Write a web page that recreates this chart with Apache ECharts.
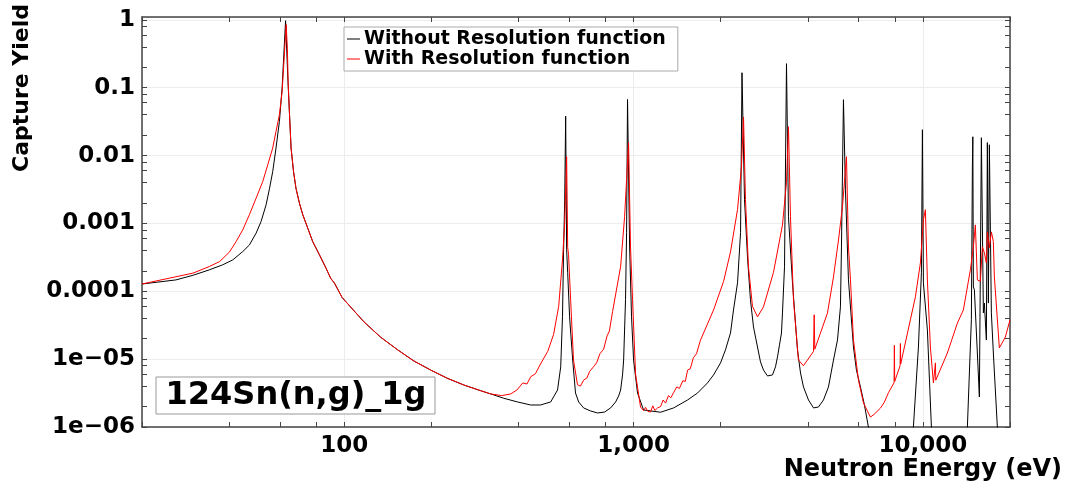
<!DOCTYPE html>
<html><head><meta charset="utf-8">
<script src="https://cdn.jsdelivr.net/npm/echarts@6/dist/echarts.min.js"></script>
<style>html,body{margin:0;padding:0;background:#fff}#c{width:1068px;height:485px}</style>
</head><body><div id="c"></div>
<script>
const seriesNames = ['Without Resolution function', 'With Resolution function'];
const xLabelValues = [100, 1000, 10000];
const xLabelTexts = ['100', '1,000', '10,000'];
const yLabelValues = [1e-6, 1e-5, 1e-4, 1e-3, 0.01, 0.1, 1];
const yLabelTexts = ['1e\u221206', '1e\u221205', '0.0001', '0.001', '0.01', '0.1', '1'];
const xTickValues = [20, 40, 60, 80, 100, 200, 400, 600, 800, 1000, 2000, 4000, 6000, 8000, 10000, 20000];
const yTickValues = [1e-6, 2e-6, 4e-6, 6e-6, 8e-6, 1e-5, 2e-5, 4e-5, 6e-5, 8e-5, 1e-4, 2e-4, 4e-4, 6e-4, 8e-4,
  1e-3, 2e-3, 4e-3, 6e-3, 8e-3, 0.01, 0.02, 0.04, 0.06, 0.08, 0.1, 0.2, 0.4, 0.6, 0.8, 1];

// Without resolution function (black): [energy eV, capture yield]
const noResPoints = [
  [20, 1.28e-4], [26.2, 1.47e-4], [30, 1.72e-4], [34.2, 2.07e-4], [38, 2.45e-4], [41.2, 2.9e-4], [44.6, 3.85e-4],
  [47.0, 4.8e-4], [49.6, 7.2e-4], [51.6, 1.07e-3], [53.7, 1.88e-3], [55.2, 3.3e-3], [56.6, 5.8e-3], [58.1, 0.0129],
  [59.7, 0.0318], [61.0, 0.099], [62.0, 0.385], [62.7, 0.97], [63.9, 0.124], [64.7, 0.040], [65.5, 0.0129],
  [66.8, 5.8e-3], [68.1, 3.3e-3], [70.0, 1.99e-3], [71.9, 1.34e-3], [74.8, 8.5e-4], [77.8, 5.4e-4], [82.1, 3.44e-4],
  [86.5, 2.19e-4], [89.8, 1.55e-4], [92.5, 1.32e-4], [98.3, 8.1e-5], [117, 3.54e-5], [133.7, 2.1e-5], [153, 1.37e-5],
  [174, 9.4e-6], [199, 6.9e-6], [227, 5.23e-6], [259, 4.16e-6], [296, 3.43e-6], [321, 3.07e-6], [356, 2.65e-6],
  [397, 2.34e-6], [441, 2.11e-6], [477, 2.11e-6], [517, 2.34e-6], [546, 3.5e-6], [560, 7.7e-6],
  [568, 4.2e-5], [573, 4.1e-4], [578, 2.2e-3], [582.5, 0.038], [587, 4.1e-4], [592, 1.87e-4], [601, 4.2e-5],
  [616, 9.7e-6], [630, 3.17e-6], [646, 2.34e-6], [672, 1.91e-6], [711, 1.72e-6], [751, 1.61e-6], [794, 1.66e-6],
  [833, 1.91e-6], [867, 2.34e-6], [888, 2.87e-6], [902, 3.5e-6], [916, 5.85e-6], [924, 9.7e-6], [938, 7.5e-5],
  [946, 7.3e-4], [953, 0.067], [969, 4.5e-4], [984, 4.2e-5], [1000, 9.7e-6], [1032, 3.17e-6], [1083, 1.78e-6],
  [1240, 1.65e-6], [1375, 1.91e-6], [1537, 2.5e-6], [1664, 3.17e-6], [1801, 4.46e-6], [1890, 5.85e-6], [1998, 8.8e-6],
  [2078, 1.37e-5], [2163, 2.43e-5], [2215, 5.3e-5], [2287, 1.33e-4], [2343, 7.3e-4], [2370, 0.166], [2418, 2.23e-3],
  [2476, 3.2e-4], [2535, 7.5e-5], [2597, 2.98e-5], [2681, 1.51e-5], [2746, 9.1e-6], [2812, 6.9e-6], [2904, 5.65e-6],
  [2950, 5.5e-6], [3021, 5.85e-6], [3094, 7.7e-6], [3144, 1.08e-5], [3194, 1.62e-5], [3245, 2.43e-5], [3271, 4.8e-5],
  [3324, 2.29e-4], [3377, 0.226], [3431, 1.25e-3], [3542, 1.33e-4], [3685, 1.37e-5], [3776, 6.25e-6], [3866, 3.89e-6],
  [4023, 2.5e-6], [4187, 1.91e-6], [4355, 1.97e-6], [4533, 2.5e-6], [4716, 3.89e-6], [4909, 9.7e-6], [5068, 1.92e-5],
  [5188, 5.9e-5], [5230, 4.5e-4], [5314, 0.0665], [5399, 3.13e-3], [5530, 1.47e-4], [5754, 1.51e-5], [5892, 6.9e-6],
  [6084, 3.89e-6], [6280, 2.11e-6], [6481, 1.0e-6], [7000, 3e-7], [8600, 3e-7], [9272, 1.0e-6], [9650, 1.51e-5],
  [9881, 1.87e-4], [9961, 0.024], [10040, 1.33e-4], [10363, 2.7e-5], [10700, 1.0e-6], [11500, 3e-7], [13500, 3e-7],
  [14247, 1.0e-6], [14707, 3.8e-5], [14825, 6.8e-3], [14880, 0.0189], [14943, 1.16e-4], [15063, 1.05e-4], [15426, 1.23e-5],
  [15674, 2.77e-6], [15926, 0.0183], [16181, 4.8e-5], [16310, 6.7e-5], [16571, 1.92e-5], [16704, 0.0155], [16838, 6.7e-5],
  [16971, 0.0144], [17243, 4.8e-5], [17519, 1.23e-5], [18084, 1.0e-6], [19000, 3e-7], [20000, 3e-7]
];

// With resolution function (red): [energy eV, capture yield]
const resPoints = [
  [20, 1.28e-4], [30, 1.85e-4], [34.2, 2.32e-4], [37.1, 2.74e-4], [40.1, 3.78e-4], [42.3, 5.4e-4], [44.6, 8.05e-4],
  [47.0, 1.34e-3], [49.6, 2.36e-3], [52.3, 4.15e-3], [54.4, 7.3e-3], [56.6, 0.0129], [58.1, 0.0227], [59.7, 0.040],
  [61.0, 0.088], [61.8, 0.218], [62.7, 0.605], [63.0, 0.85], [63.6, 0.38], [64.0, 0.12], [64.7, 0.040], [65.5, 0.0129],
  [66.8, 5.8e-3], [68.1, 3.3e-3], [70.0, 1.99e-3], [71.9, 1.34e-3], [74.8, 8.5e-4], [77.8, 5.4e-4], [82.1, 3.44e-4],
  [86.5, 2.19e-4], [89.8, 1.55e-4], [92.5, 1.32e-4], [98.3, 8.1e-5], [117, 3.54e-5], [133.7, 2.1e-5], [153, 1.37e-5],
  [174, 9.4e-6], [199, 6.9e-6], [227, 5.23e-6], [259, 4.16e-6], [296, 3.43e-6], [321, 3.07e-6],
  [350, 2.9e-6], [376, 3.07e-6], [395, 3.5e-6], [414, 4.46e-6], [428, 4.3e-6], [441, 5.5e-6], [458, 6.1e-6],
  [477, 8.5e-6], [505, 1.3e-5], [529, 2.3e-5], [551, 6e-5], [568, 2.9e-4], [578, 1.0e-3], [587, 9.6e-3],
  [592, 4.4e-4], [596, 3.5e-4], [606, 7.5e-5], [620, 9.7e-6], [640, 4.2e-6], [655, 4.0e-6], [672, 4.9e-6],
  [690, 5.3e-6], [705, 6.6e-6], [727, 7.7e-6], [745, 8.8e-6], [765, 1.2e-5], [788, 1.4e-5], [810, 2.2e-5],
  [825, 2.6e-5], [846, 5e-5], [902, 2.3e-4], [931, 1.25e-3],
  [961, 0.0155], [976, 4.5e-4], [992, 7.5e-5], [1016, 6e-6], [1057, 1.97e-6], [1083, 1.75e-6], [1100, 1.95e-6],
  [1120, 1.7e-6], [1145, 1.66e-6], [1165, 2.05e-6], [1185, 1.75e-6], [1210, 1.91e-6], [1240, 2.0e-6], [1265, 2.5e-6],
  [1290, 2.25e-6], [1320, 2.9e-6], [1345, 2.7e-6], [1375, 3.2e-6], [1410, 3.9e-6], [1440, 3.7e-6], [1480, 4.8e-6],
  [1510, 4.7e-6], [1537, 6.9e-6], [1570, 7.2e-6], [1610, 1.05e-5], [1650, 1.2e-5], [1703, 1.9e-5], [1890, 5.3e-5],
  [2047, 1.4e-4], [2163, 3.8e-4],
  [2287, 1.6e-3], [2360, 6.8e-3], [2399, 0.037], [2437, 2.23e-3], [2495, 2.3e-4], [2576, 6e-5], [2681, 4.2e-5],
  [2812, 5.9e-5], [3045, 1.9e-4], [3271, 9.5e-4], [3377, 4e-3], [3431, 0.0266], [3486, 1.25e-3], [3570, 7.5e-5],
  [3714, 9.7e-6], [3866, 8e-6], [4187, 1.3e-5], [4210, 4.5e-5], [4230, 1.4e-5], [4426, 2.43e-5], [4680, 4.8e-5],
  [4909, 1.63e-4], [5108, 5.7e-4], [5272, 1.76e-3], [5443, 9.6e-3], [5530, 4.5e-4], [5619, 1.47e-4], [5754, 1.92e-5],
  [5988, 4.9e-6], [6231, 2.26e-6], [6586, 1.4e-6], [6800, 1.55e-6], [7134, 1.9e-6], [7350, 2.3e-6], [7604, 3.2e-6],
  [7950, 4.5e-6], [7969, 1.6e-5],
  [7990, 4.7e-6], [8340, 8e-6], [8360, 1.7e-5], [8380, 8.5e-6], [9052, 3.8e-5], [9421, 8.3e-5], [9804, 2.62e-4],
  [10040, 1.13e-3], [10200, 1.59e-3], [10363, 1.47e-4], [10614, 1.51e-5], [10872, 4.46e-6], [11020, 4.5e-6],
  [11047, 8.8e-6], [11080, 4.9e-6], [11223, 4.9e-6], [12150, 1.23e-5], [13157, 3.4e-5], [13800, 5.3e-5], [14592, 2.07e-4],
  [14943, 4.5e-4], [15182, 9.5e-4], [15426, 1.47e-4], [15799, 1.4e-4], [16052, 4.5e-4], [16310, 3.7e-4], [16571, 2.6e-4],
  [16704, 7.5e-4], [16971, 4.4e-4], [17243, 7.5e-4], [17519, 5.4e-4], [17660, 1.63e-4], [18375, 1.46e-5], [19275, 2.12e-5],
  [20000, 3.8e-5]
];

const FONT = 'DejaVu Sans';
const AXIS_COLOR = '#444';
const X_MIN = 20, X_MAX = 20000, Y_MIN = 1e-6, Y_MAX = 1.1;

function labelFor(values, texts) {
  return function (v) {
    for (let i = 0; i < values.length; i++) {
      if (Math.abs(Math.log10(v) - Math.log10(values[i])) < 1e-6) return texts[i];
    }
    return '';
  };
}

const chart = echarts.init(document.getElementById('c'), null, { renderer: 'canvas' });
const baseX = { type: 'log', logBase: 10, min: X_MIN, max: X_MAX, gridIndex: 0 };
const baseY = { type: 'log', logBase: 10, min: Y_MIN, max: Y_MAX, gridIndex: 0 };
chart.setOption({
  animation: false,
  backgroundColor: '#fff',
  grid: { left: 142, right: 58, top: 17, bottom: 58, containLabel: false },
  legend: {
    data: seriesNames,
    left: 344, top: 27,
    orient: 'vertical',
    icon: 'rect',
    itemWidth: 13, itemHeight: 1, itemGap: 0,
    padding: [2, 12, 2, 3],
    borderColor: '#aaa', borderWidth: 1, backgroundColor: '#fff',
    selectedMode: false,
    textStyle: { fontFamily: FONT, fontWeight: 'bold', fontSize: 19, color: '#000', lineHeight: 20, padding: [0, 0, 0, -1] }
  },
  xAxis: [
    Object.assign({}, baseX, {
      position: 'bottom',
      axisLine: { show: true, onZero: false, lineStyle: { color: AXIS_COLOR, width: 1.5 } },
      axisTick: { show: true, inside: true, length: 5, customValues: xTickValues, lineStyle: { color: AXIS_COLOR } },
      axisLabel: { show: true, customValues: xLabelValues, formatter: labelFor(xLabelValues, xLabelTexts),
        fontFamily: FONT, fontWeight: 'bold', fontSize: 23, color: '#000', margin: 8 },
      splitLine: { show: false }
    }),
    Object.assign({}, baseX, {
      position: 'top',
      axisLine: { show: true, onZero: false, lineStyle: { color: AXIS_COLOR, width: 1.5 } },
      axisTick: { show: true, inside: true, length: 5, customValues: xTickValues, lineStyle: { color: AXIS_COLOR } },
      axisLabel: { show: false },
      splitLine: { show: false }
    }),
    Object.assign({}, baseX, {
      position: 'bottom',
      axisLine: { show: false }, axisTick: { show: false }, axisLabel: { show: false },
      splitLine: { show: true, lineStyle: { color: '#ececec', width: 1 } }
    })
  ],
  yAxis: [
    Object.assign({}, baseY, {
      position: 'left',
      axisLine: { show: true, onZero: false, lineStyle: { color: AXIS_COLOR, width: 1.5 } },
      axisTick: { show: true, inside: true, length: 5, customValues: yTickValues, lineStyle: { color: AXIS_COLOR } },
      axisLabel: { show: true, customValues: yLabelValues, formatter: labelFor(yLabelValues, yLabelTexts),
        fontFamily: FONT, fontWeight: 'bold', fontSize: 23, color: '#000', margin: 7 },
      splitLine: { show: false }
    }),
    Object.assign({}, baseY, {
      position: 'right',
      axisLine: { show: true, onZero: false, lineStyle: { color: AXIS_COLOR, width: 1.5 } },
      axisTick: { show: true, inside: true, length: 5, customValues: yTickValues, lineStyle: { color: AXIS_COLOR } },
      axisLabel: { show: false },
      splitLine: { show: false }
    }),
    Object.assign({}, baseY, {
      position: 'left',
      axisLine: { show: false }, axisTick: { show: false }, axisLabel: { show: false },
      splitLine: { show: true, lineStyle: { color: '#ececec', width: 1 } }
    })
  ],
  series: [
    { name: seriesNames[0], type: 'line', xAxisIndex: 0, yAxisIndex: 0, data: noResPoints,
      showSymbol: false, symbol: 'none',
      lineStyle: { color: '#000', width: 1 }, itemStyle: { color: '#000' }, clip: true, z: 2 },
    { name: seriesNames[1], type: 'line', xAxisIndex: 0, yAxisIndex: 0, data: resPoints,
      showSymbol: false, symbol: 'none',
      lineStyle: { color: '#ff0000', width: 1 }, itemStyle: { color: '#ff0000' }, clip: true, z: 3 }
  ],
  graphic: [
    { type: 'rect', z: 100, shape: { x: 156, y: 377, width: 279, height: 37 },
      style: { fill: '#fff', stroke: '#999', lineWidth: 1 } },
    { type: 'text', z: 101, x: 296, y: 396,
      style: { text: '124Sn(n,g)_1g', font: 'bold 32px "DejaVu Sans"', fill: '#000', textAlign: 'center', textVerticalAlign: 'middle' } },
    { type: 'text', z: 101, x: 22, y: 88, rotation: Math.PI / 2,
      style: { text: 'Capture Yield', font: 'bold 22px "DejaVu Sans"', fill: '#000', textAlign: 'center', textVerticalAlign: 'middle' } },
    { type: 'text', z: 101, x: 1062, y: 470,
      style: { text: 'Neutron Energy (eV)', font: 'bold 24px "DejaVu Sans"', fill: '#000', textAlign: 'right', textVerticalAlign: 'middle' } }
  ]
});
</script>
</body></html>
